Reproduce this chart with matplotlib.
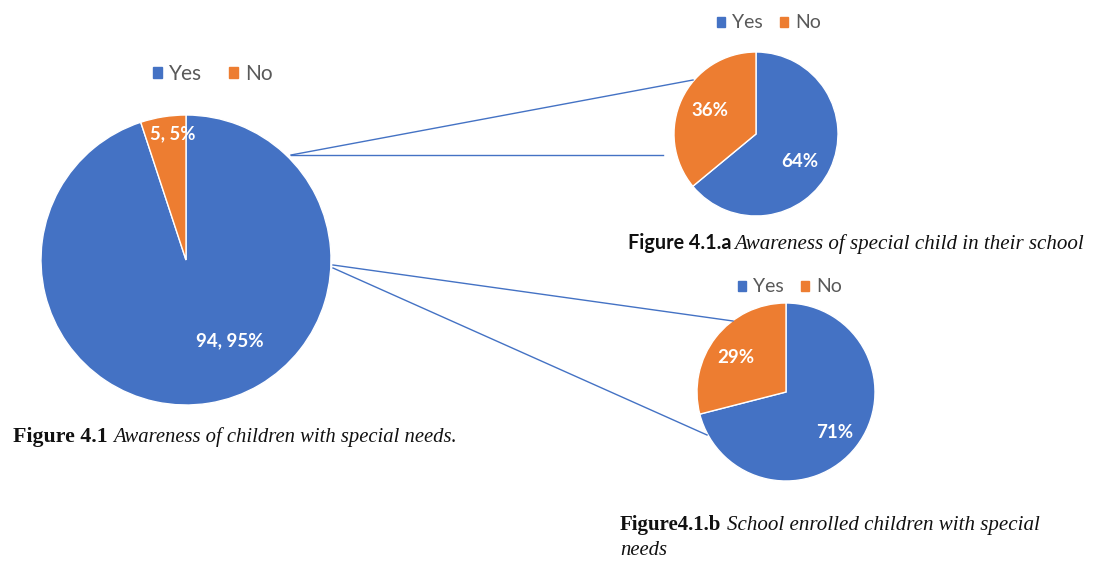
import numpy as np
import matplotlib.pyplot as plt
from matplotlib.patches import Patch
from matplotlib.lines import Line2D

labels = ['Yes', 'No']
aware_counts = [94, 5]          # Figure 4.1
aware_school_pct = [64, 36]     # Figure 4.1.a
enrolled_pct = [71, 29]         # Figure 4.1.b

colors = ['#4472C4', '#ED7D31']
W, H = 1093, 561

fig = plt.figure(figsize=(W / 100, H / 100), dpi=100)
renderer = fig.canvas.get_renderer()


def px_axes(cx, cy, r):
    # axes box in pixels (origin top-left) around a pie of radius r
    return fig.add_axes([(cx - r) / W, (H - cy - r) / H, 2 * r / W, 2 * r / H])


def draw_pie(ax, vals):
    ax.pie(vals, colors=colors, startangle=90, counterclock=False,
           wedgeprops=dict(edgecolor='white', linewidth=1))
    ax.set_xlim(-1, 1)
    ax.set_ylim(-1, 1)
    ax.set_aspect('equal')
    ax.axis('off')


lbl_font = dict(color='white', fontweight='bold', family='Lato',
                ha='center', va='center')

# main pie
ax0 = px_axes(186, 260, 145)
draw_pie(ax0, aware_counts)
tot = sum(aware_counts)
pcts = [round(v / tot * 100) for v in aware_counts]
ax0.text(0.30, -0.56, f'{aware_counts[0]}, {pcts[0]}%', fontsize=13.5, **lbl_font)
ax0.text(-0.09, 0.87, f'{aware_counts[1]}, {pcts[1]}%', fontsize=13.3, **lbl_font)

# pie a
ax1 = px_axes(756, 134, 82)
draw_pie(ax1, aware_school_pct)
ax1.text(0.53, -0.34, f'{aware_school_pct[0]}%', fontsize=13.5, **lbl_font)
ax1.text(-0.56, 0.29, f'{aware_school_pct[1]}%', fontsize=13.5, **lbl_font)

# pie b
ax2 = px_axes(786, 392, 89)
draw_pie(ax2, enrolled_pct)
ax2.text(0.55, -0.45, f'{enrolled_pct[0]}%', fontsize=13.5, **lbl_font)
ax2.text(-0.56, 0.39, f'{enrolled_pct[1]}%', fontsize=13.5, **lbl_font)

# connector lines (pixel coords)
links = [((291, 155), (693, 80)), ((291, 155), (663, 155)),
         ((333, 265), (733, 321)), ((333, 268), (707, 435))]
for (x0, y0), (x1, y1) in links:
    fig.add_artist(Line2D([x0 / W, x1 / W], [1 - y0 / H, 1 - y1 / H],
                          transform=fig.transFigure, color='#4472C4', lw=1))

# legends
handles = [Patch(color=c) for c in colors]
for (cx, cy), fs, cs in [((213, 74), 15, 1.3), ((769, 23), 14, 0.9),
                         ((790, 287), 14, 0.9)]:
    fig.legend(handles, labels, loc='center', bbox_to_anchor=(cx / W, 1 - cy / H),
               ncol=2, frameon=False, handlelength=0.42, handleheight=0.42,
               handletextpad=0.35, columnspacing=cs, labelcolor='#595959',
               borderpad=0, prop=dict(family='Lato', size=fs))


def fitted_text(x0, x1, y, s, **kw):
    # text whose left edge sits at x0 and right edge at x1 (pixels)
    t = fig.text(x0 / W, 1 - y / H, s, fontsize=10, va='baseline',
                 color='#111111', **kw)
    w = t.get_window_extent(renderer).width
    t.set_fontsize(10 * (x1 - x0) / w)
    return t


serif_b = dict(family='Liberation Serif', fontweight='bold')
serif_i = dict(family='Liberation Serif', style='italic')

fitted_text(13, 108, 442, 'Figure 4.1', **serif_b)
fitted_text(113, 458, 442, 'Awareness of children with special needs.', **serif_i)

fitted_text(628, 731, 249, 'Figure 4.1.a', family='Lato', fontweight='bold')
fitted_text(734, 1085, 249, 'Awareness of special child in their school', **serif_i)

fitted_text(620, 722, 530, 'Figure4.1.b', **serif_b)
fitted_text(727, 1040, 530, 'School enrolled children with special', **serif_i)
fitted_text(620, 667, 555, 'needs', **serif_i)

fig.savefig('out.png', dpi=100)
